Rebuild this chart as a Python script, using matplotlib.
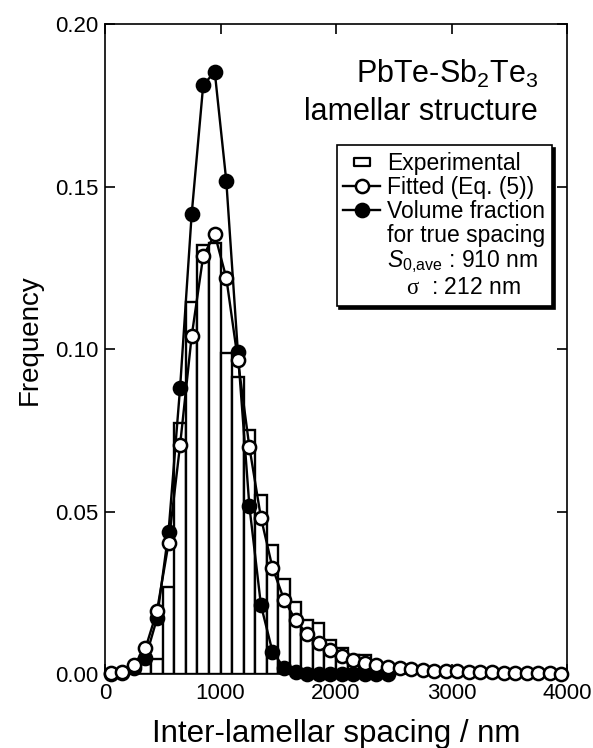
import matplotlib
matplotlib.use('Agg')
import matplotlib.pyplot as plt
from matplotlib.lines import Line2D
from matplotlib.path import Path
from matplotlib.ticker import FormatStrFormatter

plt.rcParams['font.family'] = ['Liberation Sans', 'DejaVu Sans']
plt.rcParams['mathtext.fontset'] = 'custom'
plt.rcParams['mathtext.rm'] = 'Liberation Sans'
plt.rcParams['mathtext.it'] = 'Liberation Sans:italic'
plt.rcParams['mathtext.sf'] = 'Liberation Serif'

# ---- data ----
spacing = [50, 150, 250, 350, 450, 550, 650, 750, 850, 950,
           1050, 1150, 1250, 1350, 1450, 1550, 1650, 1750, 1850, 1950,
           2050, 2150, 2250, 2350, 2450, 2550, 2650, 2750, 2850, 2950,
           3050, 3150, 3250, 3350, 3450, 3550, 3650, 3750, 3850, 3950]

experimental = [0.0, 0.0, 0.0, 0.003, 0.0045, 0.0269, 0.0771, 0.1146, 0.1320, 0.1325,
                0.0987, 0.0915, 0.0751, 0.0551, 0.0397, 0.0291, 0.0222, 0.0166, 0.0158, 0.0105,
                0.0080, 0.0058, 0.0058, 0.0035, 0.0028, 0.0020, 0.0015, 0.0010, 0.0, 0.0,
                0.0, 0.0, 0.0, 0.0, 0.0, 0.0, 0.0, 0.0, 0.0, 0.0]

fitted = [0.0002, 0.0007, 0.0028, 0.0079, 0.0194, 0.0402, 0.0705, 0.1039, 0.1286, 0.1353,
          0.1219, 0.0966, 0.0698, 0.0481, 0.0327, 0.0229, 0.0166, 0.0122, 0.0094, 0.0073,
          0.0056, 0.0044, 0.0035, 0.0028, 0.0023, 0.0018, 0.0014, 0.0012, 0.0010, 0.0009,
          0.0008, 0.0007, 0.0006, 0.0005, 0.0004, 0.0004, 0.0003, 0.0003, 0.0002, 0.0001]

volume_spacing = spacing[:25]
volume = [0.0, 0.0003, 0.0018, 0.0048, 0.0171, 0.0438, 0.0881, 0.1414, 0.1812, 0.1853,
          0.1517, 0.0992, 0.0516, 0.0212, 0.0069, 0.0019, 0.0005, 0.0001, 0.0, 0.0,
          0.0, 0.0, 0.0, 0.0, 0.0]

x_ticks = [0, 1000, 2000, 3000, 4000]
y_ticks = [0.00, 0.05, 0.10, 0.15, 0.20]

# ---- figure ----
fig = plt.figure(figsize=(5.93, 7.48), dpi=100)
ax = fig.add_axes([0.1771, 0.0989, 0.7791, 0.8690])

ax.bar(spacing, experimental, width=100, color='white', edgecolor='black',
       linewidth=1.7, zorder=1)
ax.plot(volume_spacing, volume, '-o', color='black', mfc='black', mec='black',
        ms=9.5, mew=1.8, lw=1.7, zorder=3, clip_on=False)
ax.plot(spacing, fitted, '-o', color='black', mfc='white', mec='black',
        ms=9.5, mew=1.8, lw=1.7, zorder=4, clip_on=False)

ax.set_xlim(0, 4000)
ax.set_ylim(0, 0.20)
ax.set_xticks(x_ticks)
ax.set_yticks(y_ticks)
ax.yaxis.set_major_formatter(FormatStrFormatter('%.2f'))
ax.tick_params(direction='in', length=7.2, width=1.2, top=True, right=True,
               labelsize=16, pad=5)
ax.tick_params(axis='x', pad=6.5)
for s in ax.spines.values():
    s.set_linewidth(1.2)

ax.set_xlabel('Inter-lamellar spacing / nm', fontsize=22.5, labelpad=11)
ax.set_ylabel('Frequency', fontsize=20, labelpad=6)
ax.yaxis.set_label_coords(-0.135, 0.514)

ax.text(0.937, 0.909, r'PbTe-Sb$_2$Te$_3$', transform=ax.transAxes,
        ha='right', va='baseline', fontsize=22)
ax.text(0.937, 0.852, 'lamellar structure', transform=ax.transAxes,
        ha='right', va='baseline', fontsize=22)

rect = Path([(-1, -0.5), (1, -0.5), (1, 0.5), (-1, 0.5), (-1, -0.5)],
            [Path.MOVETO, Path.LINETO, Path.LINETO, Path.LINETO, Path.CLOSEPOLY])
handles = [
    Line2D([], [], ls='none', marker=rect, ms=12, mfc='white', mec='black', mew=1.6),
    Line2D([], [], color='black', lw=1.7, marker='o', ms=9.5, mfc='white', mec='black', mew=1.8),
    Line2D([], [], color='black', lw=1.7, marker='o', ms=9.5, mfc='black', mec='black', mew=1.8),
    Line2D([], [], ls='none'),
    Line2D([], [], ls='none'),
    Line2D([], [], ls='none'),
]
labels = ['Experimental', 'Fitted (Eq. (5))', 'Volume fraction', 'for true spacing',
          r'$S_{0{,}\mathrm{ave}}$ : 910 nm', r'   $\mathsf{\sigma}$  : 212 nm']
leg = ax.legend(handles, labels, loc='upper right', bbox_to_anchor=(0.9675, 0.8138),
                fontsize=16.5, frameon=True, fancybox=False, edgecolor='black',
                framealpha=1, shadow={'color': 'black', 'alpha': 1.0},
                borderpad=0.3, labelspacing=0.05, handlelength=1.6,
                handletextpad=0.3, borderaxespad=0)
leg.get_frame().set_linewidth(1.2)
leg.set_zorder(10)

fig.savefig('out.png', dpi=100)
